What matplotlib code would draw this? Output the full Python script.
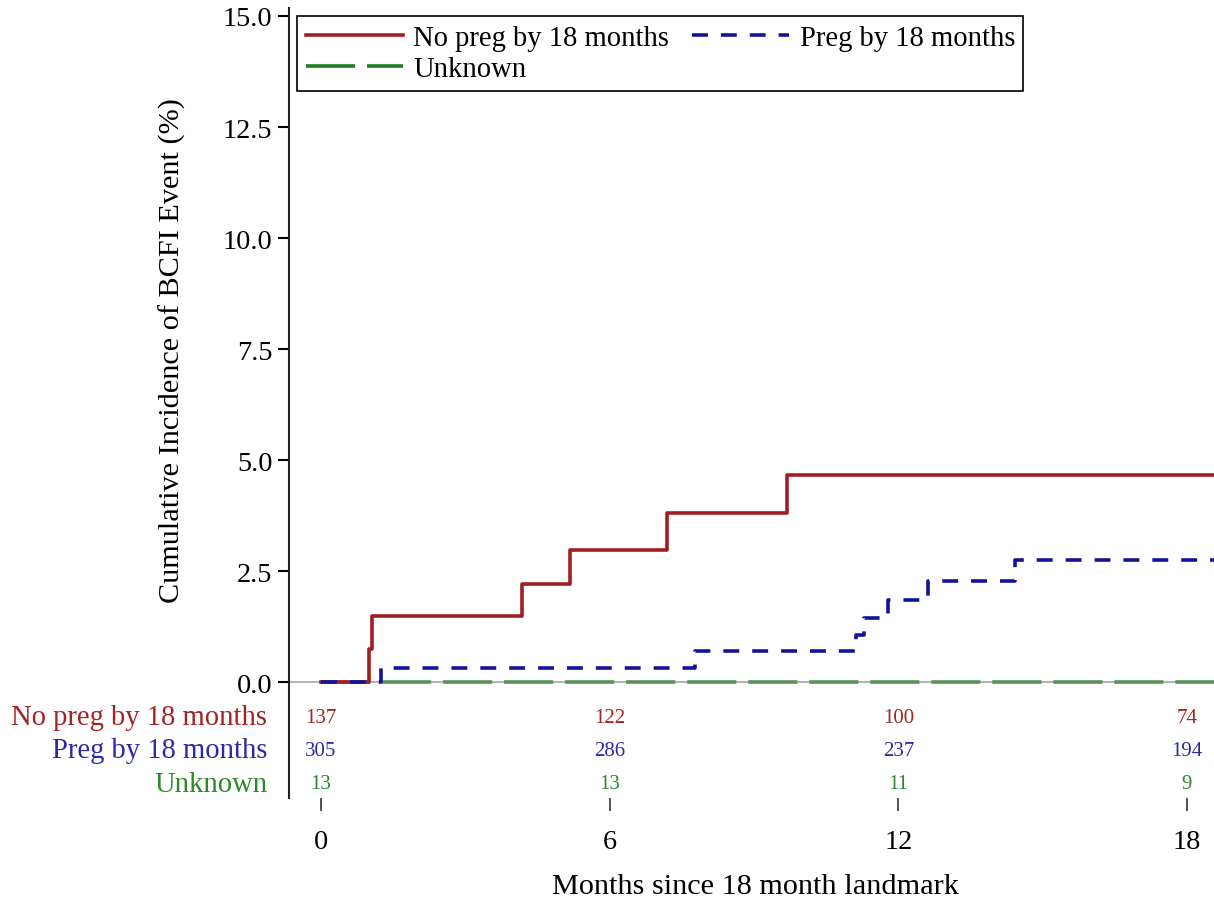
import numpy as np
import matplotlib.pyplot as plt
from matplotlib.lines import Line2D

plt.rcParams['font.family'] = ['Liberation Serif', 'DejaVu Serif']

# step curves: event times (months) and cumulative incidence (%)
nopreg_t = [0, 1.0, 1.05, 4.18, 5.18, 7.19, 9.69, 18.6]
nopreg_y = [0, 0.74, 1.48, 2.21, 2.98, 3.80, 4.66, 4.66]
preg_t = [0, 1.25, 7.78, 11.12, 11.28, 11.79, 12.62, 14.43, 18.6]
preg_y = [0, 0.31, 0.69, 1.06, 1.44, 1.85, 2.28, 2.75, 2.75]
unk_t = [0, 18.6]
unk_y = [0, 0]

# numbers at risk
risk_times = [0, 6, 12, 18]
risk_nopreg = [137, 122, 100, 74]
risk_preg = [305, 286, 237, 194]
risk_unk = [13, 13, 11, 9]

groups = ["No preg by 18 months", "Preg by 18 months", "Unknown"]
red = '#a11d21'
blue = '#12129c'
green = '#1e7b1e'
text_cols = ['#a32424', '#2a2aa8', '#2a8a2a']
LW = 2.6
blue_dash = (4.4, 3.6)
green_dash = (13.6, 3.3)

fig = plt.figure(figsize=(12.14, 9.03), dpi=100)
ax = fig.add_axes([289 / 1214, 1 - 799 / 903, 1 - 289 / 1214, 790 / 903])

ax.axhline(0, color='#b5b5b5', lw=1.5, zorder=1)
ax.step(unk_t, unk_y, where='post', color='#5b8f5b', lw=LW, dashes=green_dash, zorder=2)
ax.step(nopreg_t, nopreg_y, where='post', color=red, lw=LW, zorder=3)
ax.step(preg_t, preg_y, where='post', color=blue, lw=LW, dashes=blue_dash, zorder=4)

ax.set_xlim(-0.665, 18.56)
ax.set_ylim(-2.61, 15.18)

ax.set_yticks(np.arange(0, 15.01, 2.5))
ax.set_yticklabels(["%.1f" % v for v in np.arange(0, 15.01, 2.5)])
ax.set_xticks(risk_times)
ax.set_xticklabels([str(v) for v in risk_times])
ax.tick_params(axis='y', direction='out', length=8, width=1.5, labelsize=20.3, pad=4)
ax.tick_params(axis='x', direction='out', length=9, width=1.2, labelsize=20.3, pad=13,
               color='#333333')

for s in ['top', 'right', 'bottom']:
    ax.spines[s].set_visible(False)
ax.spines['left'].set_linewidth(1.5)
ax.spines['left'].set_color('#222222')

# risk table
rows = [risk_nopreg, risk_preg, risk_unk]
row_y = [-0.79, -1.54, -2.29]
for vals, yy, col, name in zip(rows, row_y, text_cols, groups):
    for t, v in zip(risk_times, vals):
        ax.text(t, yy, str(v), color=col, fontsize=15, ha='center', va='center')
    ax.text(-1.12, yy, name, color=col, fontsize=20.6, ha='right', va='center', clip_on=False)

h_red = Line2D([], [], color=red, lw=LW)
h_blue = Line2D([], [], color=blue, lw=LW, dashes=blue_dash)
h_green = Line2D([], [], color=green, lw=LW, dashes=green_dash)
# column-wise fill: col 1 = No preg, Unknown; col 2 = Preg
leg = ax.legend([h_red, h_green, h_blue], [groups[0], groups[2], groups[1]], ncol=2,
                loc='upper left', bbox_to_anchor=(8 / 925, 1 - 8 / 790), fontsize=20.6,
                handlelength=3.4, handletextpad=0.36, columnspacing=0.8, labelspacing=0.2,
                borderpad=0.3, borderaxespad=0, fancybox=False, framealpha=1)
leg.get_frame().set_edgecolor('black')
leg.get_frame().set_linewidth(1.2)

fig.text(172 / 1214, 1 - 351 / 903, "Cumulative Incidence of BCFI Event (%)", rotation=90,
         ha='center', va='center', fontsize=21.8)
fig.text(755 / 1214, 1 - 887 / 903, "Months since 18 month landmark", ha='center',
         va='center', fontsize=21.8)

fig.savefig('out.png', dpi=100)
